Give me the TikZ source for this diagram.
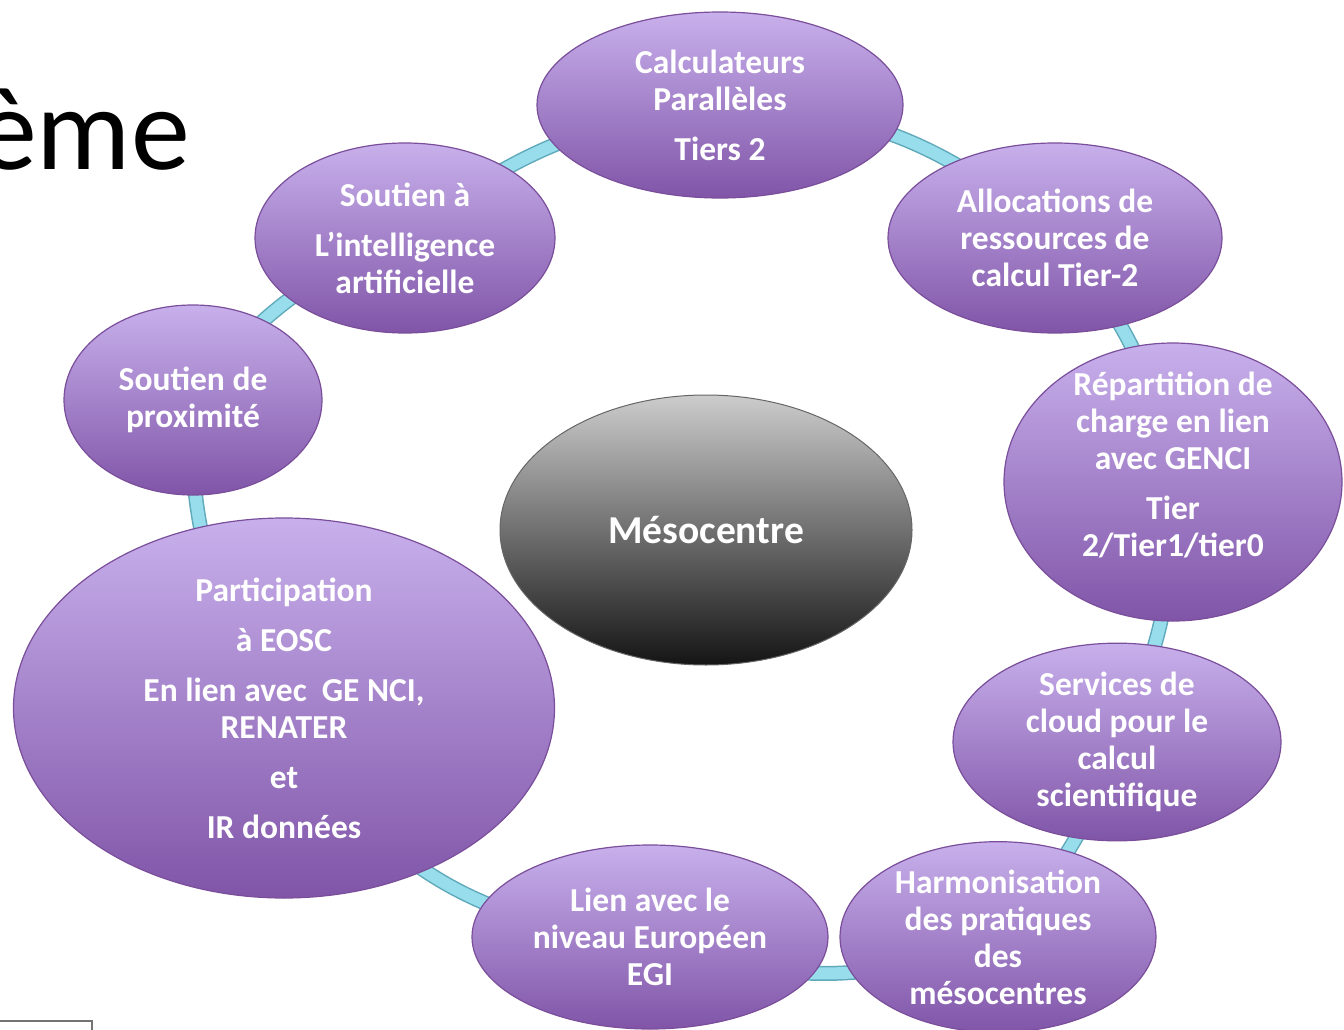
\documentclass[tikz,border=0pt]{standalone}
\usepackage{fontspec}
\setmainfont{Carlito}
\usepackage{tikz}
\usepackage{xcolor}
\usetikzlibrary{shapes.geometric,backgrounds}

\definecolor{nodetop}{HTML}{C8B0EC}
\definecolor{nodebot}{HTML}{8055A8}
\definecolor{nodeedge}{HTML}{7A4E9A}
\definecolor{ringfill}{HTML}{98DDEB}
\definecolor{ringedge}{HTML}{5FA9BA}

\begin{document}
\begin{tikzpicture}[x=1pt, y=-1pt]
    % Styles
    \tikzstyle{petaltext} = [align=center, text=white, font=\fontsize{33.5}{37}\selectfont\bfseries]
    \tikzstyle{petal} = [ellipse, draw=nodeedge, line width=1.2pt, top color=nodetop, bottom color=nodebot, inner sep=0pt, petaltext]
    \tikzstyle{hub} = [ellipse, draw=black!60, line width=1pt, top color=black!20, bottom color=black!92, inner sep=0pt, text=white, font=\fontsize{39.5}{45}\selectfont\bfseries]
    \tikzstyle{ring} = [draw=ringedge, line width=1.5pt, double=ringfill, double distance=12pt]

    \useasboundingbox (0,0) rectangle (1344,1030);

    % Title fragment and box edge
    \node [anchor=base east, inner sep=0pt, font=\fontsize{118}{120}\selectfont] (title) at (190,170) {ème};
    \draw [black!55, line width=2pt, fill=white] (-10,1021) rectangle (92,1045);

    % Nodes
    \node [hub, minimum width=412pt, minimum height=270pt] (meso) at (706,530) {Mésocentre};
    \node [petal, minimum width=366pt, minimum height=186pt] (calc) at (720,105) {Calculateurs\\Parallèles\\[13pt]Tiers 2};
    \node [petal, minimum width=334pt, minimum height=190pt] (alloc) at (1055,238) {Allocations de\\ressources de\\calcul Tier-2};
    \node [petal, minimum width=338pt, minimum height=278pt] (repart) at (1173,482) {};
    \node [petaltext] (repart text) at (1173,465) {Répartition de\\charge en lien\\avec GENCI\\[13pt]Tier\\2/Tier1/tier0};
    \node [petal, minimum width=328pt, minimum height=185pt] (cloud) at (1117,742) {Services de\\cloud pour le\\calcul\\scientifique};
    \node [petal, minimum width=316pt, minimum height=188pt] (harmo) at (998,937) {Harmonisation\\des pratiques\\des\\mésocentres};
    \node [petal, minimum width=356pt, minimum height=184pt] (egi) at (650,937) {Lien avec le\\niveau Européen\\EGI};
    \node [petal, minimum width=541pt, minimum height=380pt] (eosc) at (284,708) {Participation\\[13pt]à EOSC\\[13pt]En lien avec~ GE NCI,\\RENATER\\[13pt]et\\[13pt]IR données};
    \node [petal, minimum width=258pt, minimum height=190pt] (prox) at (193,400) {Soutien de\\proximité};
    \node [petal, minimum width=300pt, minimum height=190pt] (ia) at (405,238) {Soutien à\\[13pt]L’intelligence\\artificielle};

    % Ring
    \begin{pgfonlayer}{background}
    \draw [ring] (calc.center) to[bend left=20] (alloc.center);
    \draw [ring] (alloc.center) to[bend left=16] (repart.center);
    \draw [ring] (repart.center) to[bend left=13] (cloud.center);
    \draw [ring] (cloud.center) to[bend left=13] (harmo.center);
    \draw [ring] (harmo.center) to[bend left=21] (egi.center);
    \draw [ring] (egi.center) to[bend left=30] (eosc.center);
    \draw [ring] (eosc.center) to[bend left=19] (prox.center);
    \draw [ring] (prox.center) to[bend left=16] (ia.center);
    \draw [ring] (ia.center) to[bend left=16] (calc.center);
    \end{pgfonlayer}
\end{tikzpicture}
\end{document}
